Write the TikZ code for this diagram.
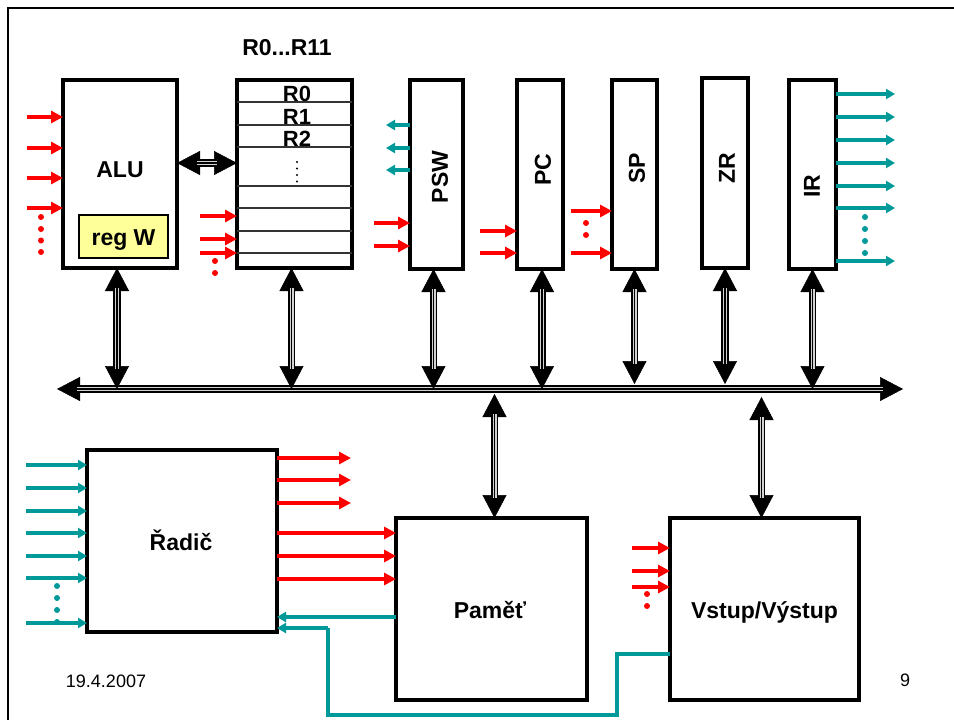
\documentclass[tikz,border=0pt]{standalone}
\usepackage{fontspec}
\setmainfont{Liberation Sans}
\usetikzlibrary{arrows.meta,calc}
\definecolor{tealc}{RGB}{0,153,153}
\definecolor{regwc}{RGB}{255,255,153}
\newcommand\busconn[2]{%
  \draw[bushead] (#1) -- (#2);
  \draw[busshaft] (#1) -- (#2);
  \draw[buscore] (#1) -- (#2);}
\begin{document}
\begin{tikzpicture}[x=1pt,y=-1pt,
  box/.style={draw, line width=4pt, fill=white, inner sep=0pt, outer sep=0pt},
  lbl/.style={font=\fontsize{23}{27}\selectfont\bfseries, inner sep=0pt, anchor=base},
  rglbl/.style={font=\fontsize{22}{26}\selectfont\bfseries, inner sep=0pt, anchor=base},
  rlbl/.style={font=\fontsize{23}{27}\selectfont\bfseries, inner sep=0pt, rotate=90},
  small/.style={font=\fontsize{18}{22}\selectfont, inner sep=0pt, anchor=base},
  redarr/.style={draw=red, line width=3.6pt, -{Triangle[length=12pt,width=12pt]}},
  tealarr/.style={draw=tealc, line width=3.2pt, -{Triangle[length=9pt,width=10pt]}},
  tealline/.style={draw=tealc, line width=3.2pt},
  regline/.style={draw=black!80, line width=1.3pt},
  bushead/.style={line width=0.5pt, {Triangle[length=23pt,width=24pt]}-{Triangle[length=23pt,width=24pt]}},
  busshaft/.style={line width=1.8pt, double=gray!35, double distance=4pt, shorten <=20pt, shorten >=20pt},
  buscore/.style={line width=1.2pt, shorten <=20pt, shorten >=20pt},
]
\useasboundingbox (0,0) rectangle (954,720);
\fill[white] (0,0) rectangle (954,720);
% frame
\draw[line width=2.4pt] (8,720) -- (8,8) -- (954,8);

% boxes
\node[box, minimum width=114pt, minimum height=188pt] (alu) at (120,174) {};
\node[draw, line width=2.5pt, fill=regwc, inner sep=0pt, minimum width=89pt, minimum height=43pt] (regw) at (123.5,236.5) {};
\node[box, minimum width=115pt, minimum height=188pt] (regs) at (294.5,174) {};
\node[box, minimum width=53pt, minimum height=189pt] (psw) at (436.5,174.5) {};
\node[box, minimum width=46pt, minimum height=189pt] (pc) at (540,174.5) {};
\node[box, minimum width=45pt, minimum height=189pt] (sp) at (634.5,174.5) {};
\node[box, minimum width=46pt, minimum height=190pt] (zr) at (725,173) {};
\node[box, minimum width=47pt, minimum height=189pt] (ir) at (812.5,174.5) {};
\node[box, minimum width=190pt, minimum height=182pt] (radic) at (182,541) {};
\node[box, minimum width=191pt, minimum height=182pt] (pamet) at (491.5,609) {};
\node[box, minimum width=189pt, minimum height=182pt] (vstup) at (764.5,609) {};

% register rows
\foreach \y in {102,125,147,186,208,231,253}
  \draw[regline] (regs.west |- 0,\y) -- (regs.east |- 0,\y);
\foreach \y in {162,168.5,175,181.5}
  \fill (297,\y) circle (1.1pt);

% labels
\node[lbl] (tregs) at (287,55) {R0...R11};
\node[rglbl] (tr0) at (297,101.7) {R0};
\node[rglbl] (tr1) at (297,124) {R1};
\node[rglbl] (tr2) at (297,146.7) {R2};
\node[lbl] (talu) at (120,177) {ALU};
\node[lbl] (tregw) at (123.5,245) {reg W};
\node[rlbl] (tpsw) at (440,177) {PSW};
\node[rlbl] (tpc) at (543,170) {PC};
\node[rlbl] (tsp) at (637,168) {SP};
\node[rlbl] (tzr) at (727,168) {ZR};
\node[rlbl] (tir) at (812,186) {IR};
\node[lbl] (tradic) at (181,550) {Řadič};
\node[lbl] (tpamet) at (490,618) {Paměť};
\node[lbl] (tvstup) at (764.5,618) {Vstup/Výstup};
\node[small] (tdate) at (106,687) {19.4.2007};
\node[small] (tpage) at (905,686) {9};

% ALU inputs
\foreach \y [count=\i] in {117,148,178,208} {
  \coordinate (ain\i) at (27,\y);
  \draw[redarr] (ain\i) -- (ain\i -| alu.west);
}
\foreach \y in {217,229,240.5,252} \fill[red] (41,\y) circle (3pt);
% register inputs
\foreach \y [count=\i] in {216,239,253} {
  \coordinate (rin\i) at (200,\y);
  \draw[redarr] (rin\i) -- (rin\i -| regs.west);
}
\foreach \y in {261,273} \fill[red] (215,\y) circle (3pt);
% PSW
\foreach \y [count=\i] in {125,148,170} {
  \coordinate (pout\i) at (386,\y);
  \draw[tealarr] (pout\i -| psw.west) -- (pout\i);
}
\foreach \y [count=\i] in {223,246} {
  \coordinate (pin\i) at (374,\y);
  \draw[redarr] (pin\i) -- (pin\i -| psw.west);
}
% PC
\foreach \y [count=\i] in {231,253} {
  \coordinate (cin\i) at (480,\y);
  \draw[redarr] (cin\i) -- (cin\i -| pc.west);
}
% SP
\foreach \y [count=\i] in {211,253} {
  \coordinate (sin\i) at (571,\y);
  \draw[redarr] (sin\i) -- (sin\i -| sp.west);
}
\foreach \y in {223,235} \fill[red] (586,\y) circle (3pt);
% IR outputs
\foreach \y [count=\i] in {94,117,140,163,186,208,261} {
  \coordinate (iout\i) at (895,\y);
  \draw[tealarr] (iout\i -| ir.east) -- (iout\i);
}
\foreach \y in {217,229,241,253} \fill[tealc] (865,\y) circle (3pt);

% bus
\coordinate (busL) at (57,389);
\coordinate (busR) at (903,389);
\busconn{busL}{busR}
\busconn{$(alu.south)+(-3,0)$}{$(alu.south |- busL)+(-3,0)$}
\busconn{$(regs.south)+(-3,0)$}{$(regs.south |- busL)+(-3,0)$}
\busconn{$(psw.south)+(-3,0)$}{$(psw.south |- busL)+(-3,0)$}
\busconn{$(pc.south)+(2,0)$}{$(pc.south |- busL)+(2,0)$}
\busconn{sp.south}{$(sp.south |- busL)+(0,-5)$}
\busconn{zr.south}{$(zr.south |- busL)+(0,-5)$}
\busconn{ir.south}{ir.south |- busL}
\busconn{alu.east |- 0,163}{regs.west |- 0,163}
\busconn{$(busL -| pamet.north)+(3,5)$}{$(pamet.north)+(3,0)$}
\busconn{$(busL -| vstup.north)+(-3,8)$}{$(vstup.north)+(-3,0)$}

% Radic inputs
\foreach \y [count=\i] in {465,488,511,533,556,578,623} {
  \coordinate (din\i) at (26,\y);
  \draw[tealarr] (din\i) -- (din\i -| radic.west);
}
\foreach \y in {586,598,610,622} \fill[tealc] (57,\y) circle (3pt);
% Radic outputs
\foreach \y [count=\i] in {458,480,503} {
  \coordinate (dout\i) at (351,\y);
  \draw[redarr] (dout\i -| radic.east) -- (dout\i);
}
\foreach \y [count=\i] in {533,556,579} {
  \coordinate (dm\i) at (300,\y);
  \draw[redarr] (dm\i -| radic.east) -- (dm\i -| pamet.west);
}
% feedback lines
\coordinate (pm) at ($(pamet.west)+(0,8)$);
\draw[tealarr] (pm) -- (pm -| radic.east);
\coordinate (vs) at ($(vstup.west)+(0,45)$);
\coordinate (k1) at (617,715);
\coordinate (k2) at (328,628);
\draw[tealline] (vs) -| (k1) -| (k2);
\draw[tealarr] (k2) -- (k2 -| radic.east);
% Vstup inputs
\foreach \y [count=\i] in {548,571,587} {
  \coordinate (vin\i) at (632,\y);
  \draw[redarr] (vin\i) -- (vin\i -| vstup.west);
}
\foreach \y in {594,606} \fill[red] (647,\y) circle (3pt);
\end{tikzpicture}
\end{document}
